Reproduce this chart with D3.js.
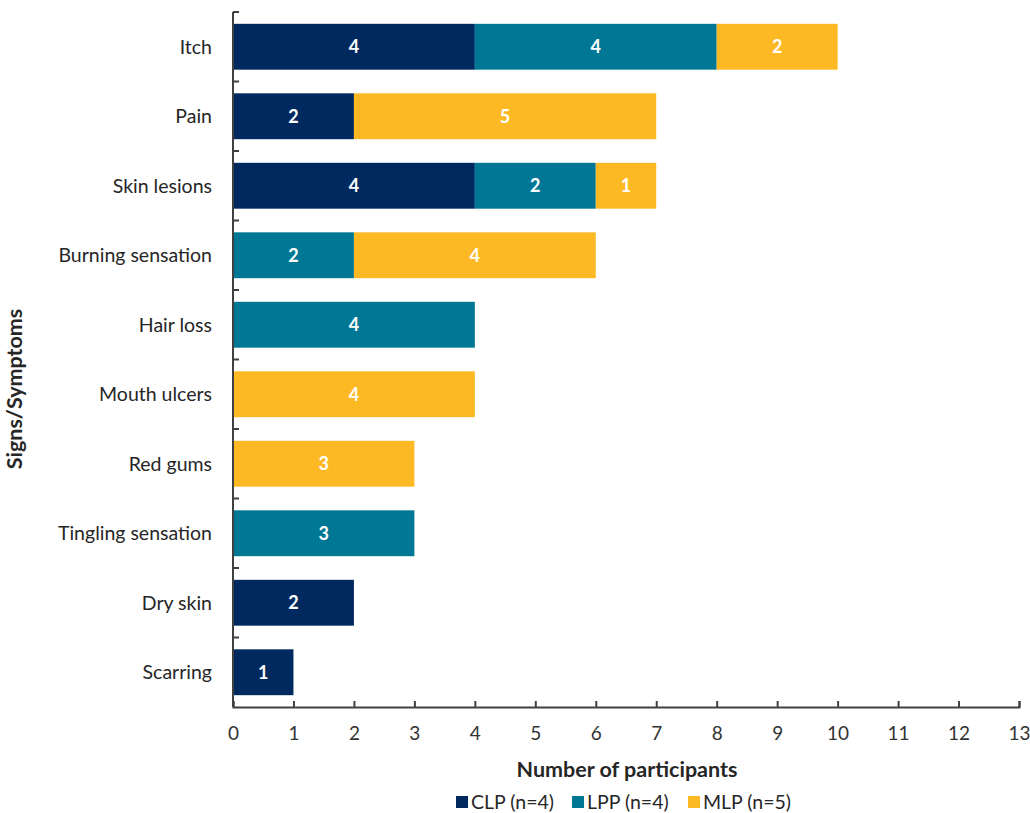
<!DOCTYPE html>
<html>
<head>
<meta charset="utf-8">
<script src="https://cdn.jsdelivr.net/npm/d3@7"></script>
<style>
  body { margin: 0; background: #fff; }
  svg text { font-family: Lato, "Open Sans", sans-serif; fill: #262626; }
</style>
</head>
<body>
<svg id="chart" width="1030" height="813"></svg>
<script>
// categories, top to bottom
const symptoms = ["Itch", "Pain", "Skin lesions", "Burning sensation", "Hair loss",
  "Mouth ulcers", "Red gums", "Tingling sensation", "Dry skin", "Scarring"];

// series values
const clp = [4, 2, 4, 0, 0, 0, 0, 0, 2, 1];
const lpp = [4, 0, 2, 2, 4, 0, 0, 3, 0, 0];
const mlp = [2, 5, 1, 4, 0, 4, 3, 0, 0, 0];

const seriesNames = ["CLP (n=4)", "LPP (n=4)", "MLP (n=5)"];
const colors = ["#00295f", "#007895", "#fdb924"];
const xTicks = d3.range(0, 14);

const svg = d3.select("#chart");
const margin = { left: 233, right: 11, top: 12, bottom: 106 };
const width = 1030, height = 813;

const x = d3.scaleLinear().domain([0, 13]).range([margin.left, width - margin.right]);
const y = d3.scaleBand().domain(symptoms).range([margin.top, height - margin.bottom])
  .paddingInner(0.34).paddingOuter(0.17);

const rows = symptoms.map((s, i) => ({ symptom: s, CLP: clp[i], LPP: lpp[i], MLP: mlp[i] }));
const stack = d3.stack().keys(["CLP", "LPP", "MLP"])(rows);

const groups = svg.selectAll("g.series")
  .data(stack)
  .join("g")
  .attr("class", "series")
  .attr("fill", (d, i) => colors[i]);

groups.selectAll("rect")
  .data(d => d.filter(p => p[1] > p[0]))
  .join("rect")
  .attr("x", d => x(d[0]))
  .attr("y", d => y(d.data.symptom))
  .attr("width", d => x(d[1]) - x(d[0]))
  .attr("height", y.bandwidth());

groups.selectAll("text")
  .data(d => d.filter(p => p[1] > p[0]))
  .join("text")
  .attr("x", d => (x(d[0]) + x(d[1])) / 2)
  .attr("y", d => y(d.data.symptom) + y.bandwidth() / 2)
  .attr("dy", "0.36em")
  .attr("text-anchor", "middle")
  .style("fill", "#fff")
  .style("font-weight", "bold")
  .style("font-size", "18px")
  .text(d => d[1] - d[0]);

// x axis
const yBottom = height - margin.bottom;
const xAxis = svg.append("g")
  .attr("transform", `translate(0,${yBottom})`)
  .call(d3.axisBottom(x).tickValues(xTicks).tickSize(-6).tickPadding(20));
xAxis.select(".domain").attr("stroke", "#404040").attr("stroke-width", 2);
xAxis.selectAll(".tick line").attr("stroke", "#404040").attr("stroke-width", 2);
xAxis.selectAll(".tick text").style("font-size", "19px").style("fill", "#333");

// y axis: line plus ticks at category boundaries
const yAxisG = svg.append("g");
yAxisG.append("line")
  .attr("x1", margin.left).attr("x2", margin.left)
  .attr("y1", margin.top).attr("y2", yBottom)
  .attr("stroke", "#404040").attr("stroke-width", 2);
const step = y.step();
const boundaries = d3.range(0, symptoms.length).map(i => y.range()[0] + i * step);
yAxisG.selectAll("line.tick")
  .data(boundaries)
  .join("line")
  .attr("class", "tick")
  .attr("x1", margin.left).attr("x2", margin.left + 6)
  .attr("y1", d => d).attr("y2", d => d)
  .attr("stroke", "#404040").attr("stroke-width", 2);

svg.append("g").selectAll("text")
  .data(symptoms)
  .join("text")
  .attr("x", margin.left - 21)
  .attr("y", d => y(d) + y.bandwidth() / 2)
  .attr("dy", "0.36em")
  .attr("text-anchor", "end")
  .style("font-size", "19.5px")
  .text(d => d);

// axis titles
svg.append("text")
  .attr("x", 627).attr("y", 777)
  .attr("text-anchor", "middle")
  .style("font-size", "21.5px").style("font-weight", "bold")
  .text("Number of participants");

svg.append("text")
  .attr("transform", "translate(22,389) rotate(-90)")
  .attr("text-anchor", "middle")
  .style("font-size", "21.5px").style("font-weight", "bold")
  .text("Signs/Symptoms");

// legend
const legendX = [456, 572, 688];
const legend = svg.append("g").selectAll("g")
  .data(seriesNames)
  .join("g")
  .attr("transform", (d, i) => `translate(${legendX[i]},802)`);
legend.append("rect")
  .attr("x", 0).attr("y", -6).attr("width", 12).attr("height", 12)
  .attr("fill", (d, i) => colors[i]);
legend.append("text")
  .attr("x", 15).attr("dy", "0.36em")
  .style("font-size", "19.5px")
  .text(d => d);
</script>
</body>
</html>
